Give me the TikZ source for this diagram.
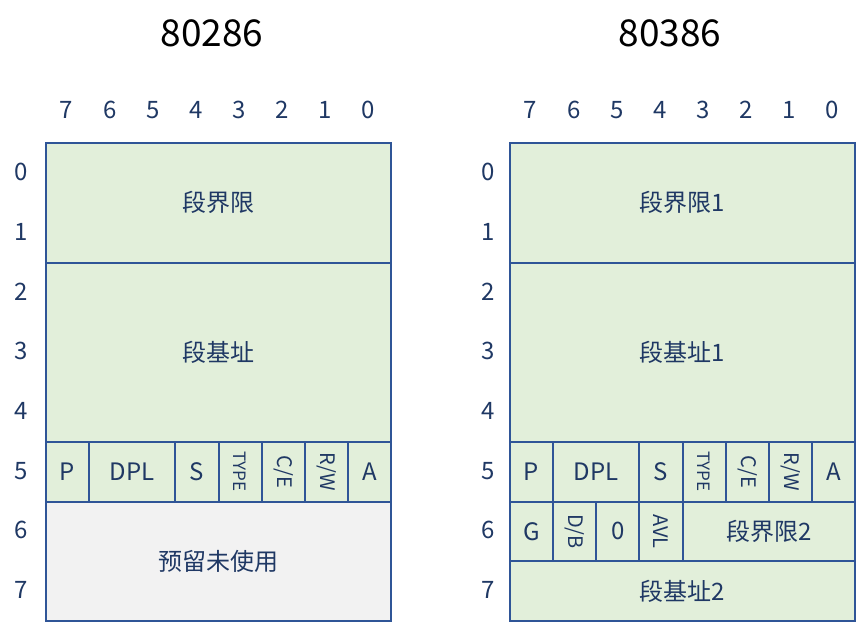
\documentclass[tikz,border=0pt]{standalone}
\usepackage{fontspec}
\setmainfont{Noto Sans CJK SC}
\usetikzlibrary{positioning}
\definecolor{bordercol}{HTML}{2F5597}
\definecolor{textcol}{HTML}{1F3864}
\definecolor{cellgreen}{HTML}{E2EFDA}
\definecolor{cellgrey}{HTML}{F2F2F2}
\tikzset{
   cell/.style={draw=bordercol, line width=2pt, fill=cellgreen, text=textcol,
      inner sep=0pt, anchor=north west, font=\fontsize{24}{24}\selectfont},
   bitlabel/.style={text=textcol, font=\fontsize{24}{24}\selectfont},
   title/.style={font=\fontsize{37}{37}\selectfont},
   small/.style={font=\fontsize{20}{20}\selectfont},
   tiny/.style={font=\fontsize{17}{17}\selectfont}
}
\begin{document}
\begin{tikzpicture}[x=1pt,y=-1pt]
   \useasboundingbox (0,0) rectangle (856,621);

   % titles
   \node[title] (t286) at (212,33) {80286};
   \node[title] (t386) at (670,33) {80386};

   % bit and byte numbers
   \foreach \j in {0,...,7}{
      \pgfmathtruncatemacro{\bit}{7-\j}
      \node[bitlabel] (lb\j) at ({45+43.125*(\j+0.5)},110) {\bit};
      \node[bitlabel] (rb\j) at ({509+43.125*(\j+0.5)},110) {\bit};
      \node[bitlabel] (lr\j) at (21,{142+59.75*(\j+0.5)}) {\j};
      \node[bitlabel] (rr\j) at (488,{142+59.75*(\j+0.5)}) {\j};
   }

   % 80286 descriptor
   \node[cell, minimum width=345pt, minimum height=119.5pt]  (llimit) at (45,142) {段界限};
   \node[cell, minimum width=345pt, minimum height=179.25pt] (lbase)  at (45,261.5) {段基址};
   \node[cell, minimum width=43.125pt, minimum height=59.75pt] (lp)   at (45,440.75) {P};
   \node[cell, minimum width=86.25pt,  minimum height=59.75pt] (ldpl) at (88.125,440.75) {DPL};
   \node[cell, minimum width=43.125pt, minimum height=59.75pt] (ls)   at (174.375,440.75) {S};
   \node[cell, tiny,  minimum width=43.125pt, minimum height=59.75pt] (ltype) at (217.5,440.75) {\rotatebox{-90}{TYPE}};
   \node[cell, small, minimum width=43.125pt, minimum height=59.75pt] (lce)   at (260.625,440.75) {\rotatebox{-90}{C/E}};
   \node[cell, small, minimum width=43.125pt, minimum height=59.75pt] (lrw)   at (303.75,440.75) {\rotatebox{-90}{R/W}};
   \node[cell, minimum width=43.125pt, minimum height=59.75pt] (la)   at (346.875,440.75) {A};
   \node[cell, fill=cellgrey, minimum width=345pt, minimum height=119.5pt] (lres) at (45,500.5) {预留未使用};

   % 80386 descriptor
   \node[cell, minimum width=345pt, minimum height=119.5pt]  (rlimit) at (509,142) {段界限1};
   \node[cell, minimum width=345pt, minimum height=179.25pt] (rbase)  at (509,261.5) {段基址1};
   \node[cell, minimum width=43.125pt, minimum height=59.75pt] (rp)   at (509,440.75) {P};
   \node[cell, minimum width=86.25pt,  minimum height=59.75pt] (rdpl) at (552.125,440.75) {DPL};
   \node[cell, minimum width=43.125pt, minimum height=59.75pt] (rs)   at (638.375,440.75) {S};
   \node[cell, tiny,  minimum width=43.125pt, minimum height=59.75pt] (rtype) at (681.5,440.75) {\rotatebox{-90}{TYPE}};
   \node[cell, small, minimum width=43.125pt, minimum height=59.75pt] (rce)   at (724.625,440.75) {\rotatebox{-90}{C/E}};
   \node[cell, small, minimum width=43.125pt, minimum height=59.75pt] (rrw)   at (767.75,440.75) {\rotatebox{-90}{R/W}};
   \node[cell, minimum width=43.125pt, minimum height=59.75pt] (ra)   at (810.875,440.75) {A};
   \node[cell, minimum width=43.125pt, minimum height=59.75pt] (rg)   at (509,500.5) {G};
   \node[cell, small, minimum width=43.125pt, minimum height=59.75pt] (rdb)  at (552.125,500.5) {\rotatebox{-90}{D/B}};
   \node[cell, minimum width=43.125pt, minimum height=59.75pt] (rzero) at (595.25,500.5) {0};
   \node[cell, small, minimum width=43.125pt, minimum height=59.75pt] (ravl) at (638.375,500.5) {\rotatebox{-90}{AVL}};
   \node[cell, minimum width=172.5pt, minimum height=59.75pt] (rlimit2) at (681.5,500.5) {段界限2};
   \node[cell, minimum width=345pt,   minimum height=59.75pt] (rbase2)  at (509,560.25) {段基址2};
\end{tikzpicture}
\end{document}
